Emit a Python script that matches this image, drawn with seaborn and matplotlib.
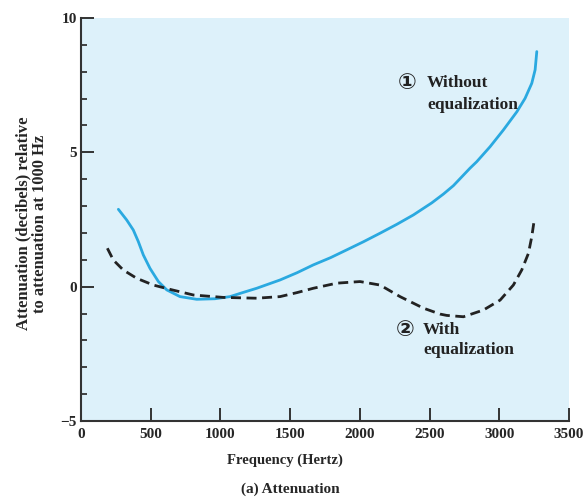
import matplotlib
matplotlib.use("Agg")
import matplotlib.pyplot as plt
import seaborn as sns
import pandas as pd
from matplotlib.ticker import MultipleLocator

# Data
freq_without = [268, 328, 375, 411, 447, 495, 555, 615, 710, 830, 960, 1069, 1160, 1260,
                1428, 1550, 1666, 1790, 1906, 2025, 2145, 2265, 2384, 2516, 2600, 2671,
                2790, 2838, 2934, 3029, 3126, 3185, 3233, 3257, 3269]
atten_without = [2.88, 2.48, 2.11, 1.68, 1.18, 0.68, 0.19, -0.12, -0.37, -0.47, -0.45,
                 -0.37, -0.22, -0.06, 0.25, 0.52, 0.81, 1.08, 1.37, 1.67, 1.99, 2.32,
                 2.67, 3.12, 3.45, 3.76, 4.41, 4.65, 5.21, 5.83, 6.51, 7.01, 7.57, 8.07,
                 8.75]

freq_with = [189, 232, 303, 400, 519, 638, 806, 1021, 1260, 1428, 1550, 1666, 1834, 2001,
             2145, 2288, 2456, 2575, 2623, 2743, 2886, 3006, 3101, 3161, 3209, 3233, 3250]
atten_with = [1.43, 0.99, 0.62, 0.31, 0.06, -0.10, -0.31, -0.40, -0.43, -0.37, -0.22,
              -0.06, 0.13, 0.19, 0.06, -0.37, -0.80, -1.02, -1.07, -1.12, -0.87, -0.50,
              0.06, 0.62, 1.24, 1.86, 2.46]

x_ticks = [0, 500, 1000, 1500, 2000, 2500, 3000, 3500]
y_ticks = [-5, 0, 5, 10]

df_without = pd.DataFrame({"freq": freq_without, "atten": atten_without})
df_with = pd.DataFrame({"freq": freq_with, "atten": atten_with})

sns.set_style("ticks")
plt.rcParams["font.family"] = ["Liberation Serif", "DejaVu Sans"]
plt.rcParams["font.weight"] = "bold"

fig = plt.figure(figsize=(5.87, 4.98), dpi=100)
ax = fig.add_axes([81 / 587, 1 - 421 / 498, 488 / 587, 403 / 498])
ax.set_facecolor("#ddf1fa")

sns.lineplot(data=df_without, x="freq", y="atten", ax=ax, sort=False,
             color="#2aa9e0", linewidth=2.0)
sns.lineplot(data=df_with, x="freq", y="atten", ax=ax, sort=False,
             color="#222222", linewidth=2.0)
ax.lines[-1].set_dashes([3.6, 2.0])
for ln in ax.lines:
    ln.set_solid_joinstyle("round")
    ln.set_dash_joinstyle("round")

ax.set_xlim(0, 3500)
ax.set_ylim(-5, 10)
ax.set_xticks(x_ticks)
ax.set_yticks(y_ticks)
ax.set_xticklabels([str(t) for t in x_ticks])
ax.set_yticklabels(["\u22125" if t == -5 else str(t) for t in y_ticks])
ax.yaxis.set_minor_locator(MultipleLocator(1))

for s in ["top", "right"]:
    ax.spines[s].set_visible(False)
for s in ["left", "bottom"]:
    ax.spines[s].set_linewidth(1.5)
    ax.spines[s].set_color("#333333")

ax.tick_params(axis="both", which="major", direction="in", length=9.5, width=1.4,
               color="#333333", labelsize=11, pad=3)
ax.tick_params(axis="x", which="major", pad=5)
ax.tick_params(axis="y", which="minor", direction="in", length=4.3, width=1.3,
               color="#333333")
for lab in ax.get_xticklabels() + ax.get_yticklabels():
    lab.set_fontweight("bold")

ax.set_xlabel("Frequency (Hertz)", fontsize=10.5, fontweight="bold")
ax.xaxis.set_label_coords(0.418, -0.08)
ax.set_ylabel("Attenuation (decibels) relative\nto attenuation at 1000 Hz",
              fontsize=12, fontweight="bold", linespacing=1.0)
ax.yaxis.set_label_coords(-0.068, 0.49)

circ_font = ["DejaVu Sans", "Noto Sans CJK JP"]
# Annotation 1
ax.text(2339, 7.58, "\u2460", fontsize=16, family=circ_font, va="center", ha="center",
        color="#222222")
ax.text(2482, 7.58, "Without", fontsize=12.5, fontweight="bold", va="center", ha="left",
        color="#222222")
ax.text(2482, 6.76, "equalization", fontsize=12.5, fontweight="bold", va="center",
        ha="left", color="#222222")
# Annotation 2
ax.text(2324, -1.61, "\u2461", fontsize=16, family=circ_font, va="center", ha="center",
        color="#222222")
ax.text(2453, -1.61, "With", fontsize=12.5, fontweight="bold", va="center", ha="left",
        color="#222222")
ax.text(2453, -2.36, "equalization", fontsize=12.5, fontweight="bold", va="center",
        ha="left", color="#222222")

fig.text(290 / 587, 1 - 489 / 498, "(a) Attenuation", fontsize=11, fontweight="bold",
         ha="center", va="center")

fig.savefig("out.png", dpi=100, facecolor="white")
